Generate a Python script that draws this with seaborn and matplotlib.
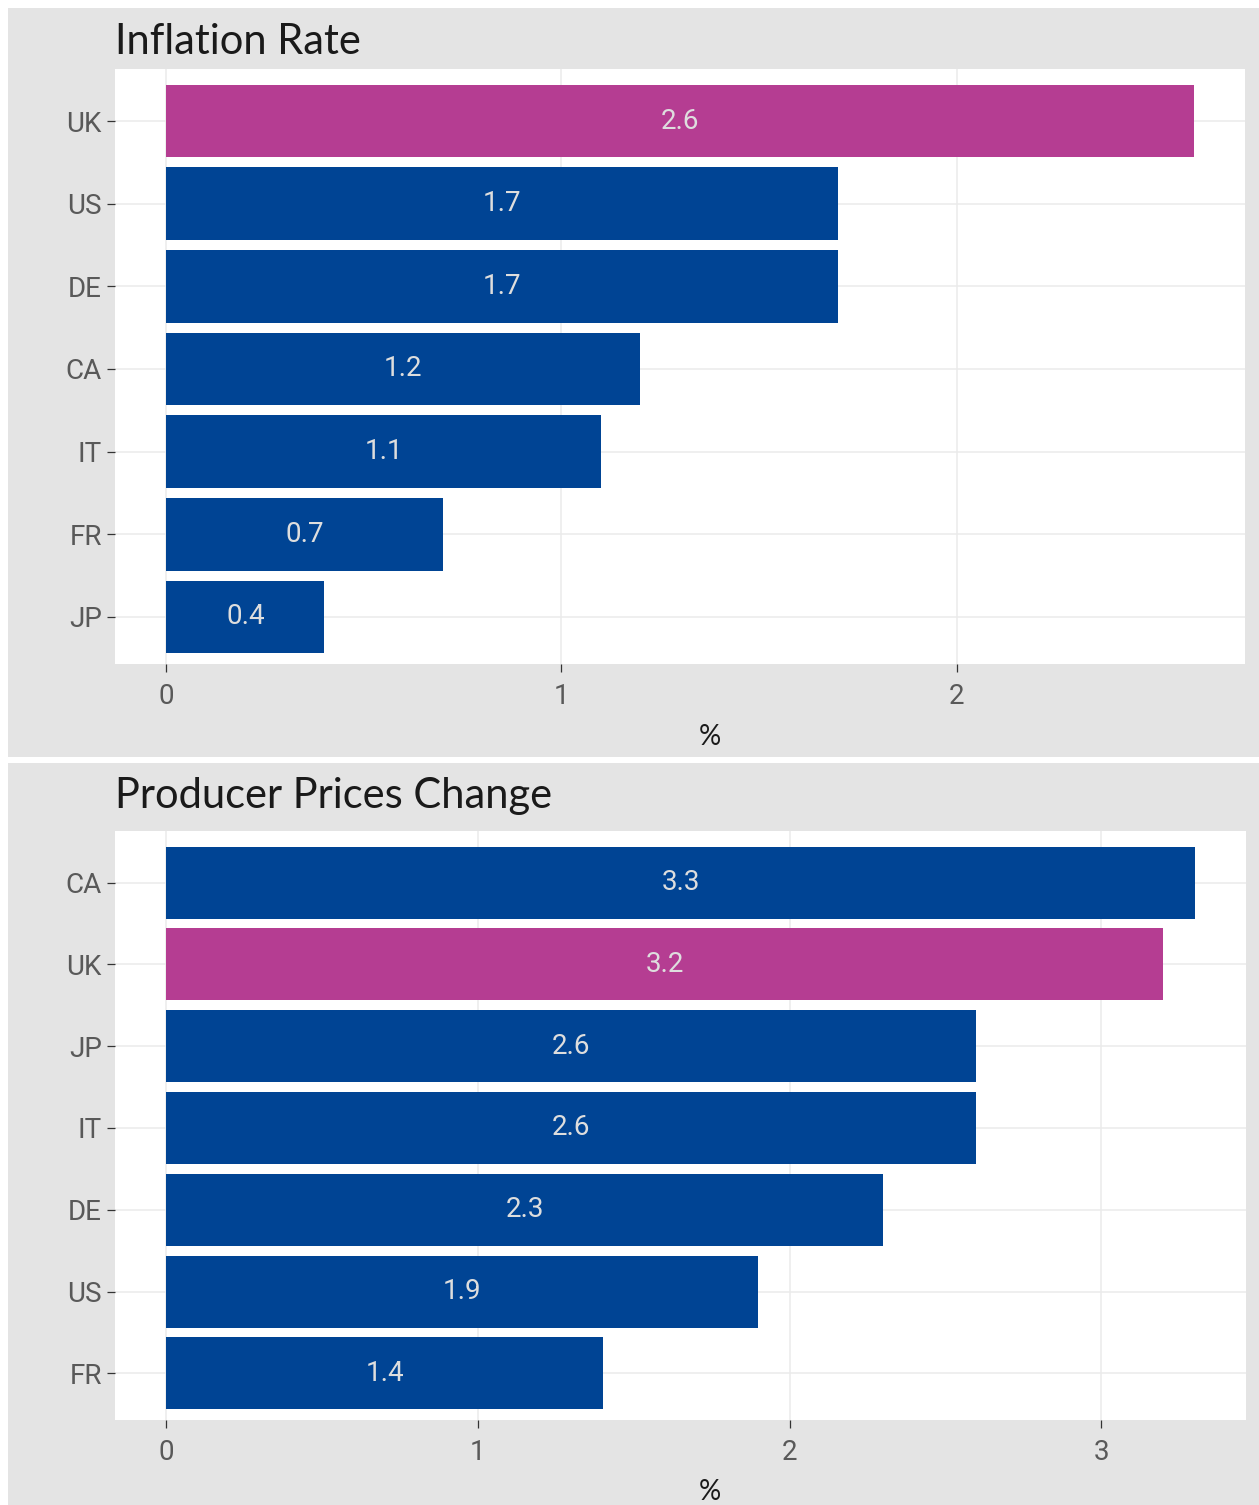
import matplotlib
matplotlib.use("Agg")
import matplotlib.pyplot as plt
from matplotlib.patches import Rectangle
import seaborn as sns
import pandas as pd

# ---- data ----
infl_countries = ["UK", "US", "DE", "CA", "IT", "FR", "JP"]
infl_values = [2.6, 1.7, 1.7, 1.2, 1.1, 0.7, 0.4]
ppi_countries = ["CA", "UK", "JP", "IT", "DE", "US", "FR"]
ppi_values = [3.3, 3.2, 2.6, 2.6, 2.3, 1.9, 1.4]
titles = ["Inflation Rate", "Producer Prices Change"]
xlabel = "%"
highlight = "UK"

BLUE = "#004494"
MAGENTA = "#b53d92"
PANEL = "#e4e4e4"
GRID = "#ebebeb"
TICKC = "#595959"

sns.set_theme(style="white")
plt.rcParams["font.family"] = ["Roboto", "DejaVu Sans"]

W, H = 1259, 1505
fig = plt.figure(figsize=(W / 100, H / 100), dpi=100)
fig.patch.set_facecolor("white")


def px_rect(x0, y0, x1, y1):
    return [x0 / W, 1 - y1 / H, (x1 - x0) / W, (y1 - y0) / H]


# grey panel backgrounds
for (y0, y1) in [(8, 757), (763, 1505)]:
    fig.patches.append(Rectangle((8 / W, 1 - y1 / H), (W - 8) / W, (y1 - y0) / H,
                                 transform=fig.transFigure, facecolor=PANEL,
                                 edgecolor="none", zorder=-10))

panels = [
    dict(countries=infl_countries, values=infl_values, title=titles[0],
         rect=(115, 69, 1245, 664), xlim=(-0.13, 2.73), ticks=[0, 1, 2],
         title_y=54, xlabel_y=745),
    dict(countries=ppi_countries, values=ppi_values, title=titles[1],
         rect=(115, 831, 1246, 1420), xlim=(-0.165, 3.465), ticks=[0, 1, 2, 3],
         title_y=808, xlabel_y=1500),
]

for p in panels:
    ax = fig.add_axes(px_rect(*p["rect"]))
    ax.set_zorder(5)
    df = pd.DataFrame({"country": p["countries"], "value": p["values"]})
    pal = {c: (MAGENTA if c == highlight else BLUE) for c in p["countries"]}
    sns.barplot(data=df, x="value", y="country", hue="country", palette=pal,
                order=p["countries"], hue_order=p["countries"], dodge=False,
                legend=False, width=0.88, saturation=1, ax=ax, linewidth=0)
    for cont in ax.containers:
        ax.bar_label(cont, label_type="center", fmt="%.1f", color="#dedede",
                     fontsize=20, family=["Roboto", "DejaVu Sans"])
    ax.set_facecolor("white")
    ax.set_xlim(*p["xlim"])
    ax.set_ylim(len(p["countries"]) - 0.43, -0.63)
    ax.set_xticks(p["ticks"])
    ax.set_xticklabels([str(t) for t in p["ticks"]])
    ax.set_axisbelow(True)
    ax.grid(True, color=GRID, linewidth=1.1)
    for s in ax.spines.values():
        s.set_visible(False)
    ax.tick_params(axis="both", which="major", length=5.5, width=0.9,
                   color="#333333", labelcolor=TICKC, labelsize=20,
                   bottom=True, left=True)
    ax.tick_params(axis="x", pad=8)
    ax.tick_params(axis="y", pad=4)
    ax.set_xlabel("")
    ax.set_ylabel("")
    fig.text(p["rect"][0] / W, 1 - p["title_y"] / H, p["title"],
             fontsize=30, color="#1a1a1a", va="baseline", ha="left",
             family=["Lato", "DejaVu Sans"])
    fig.text(710 / W, 1 - p["xlabel_y"] / H, xlabel, fontsize=20,
             color="#1a1a1a", va="baseline", ha="center",
             family=["Lato", "DejaVu Sans"])

fig.savefig("out.png", dpi=100, facecolor="white")
